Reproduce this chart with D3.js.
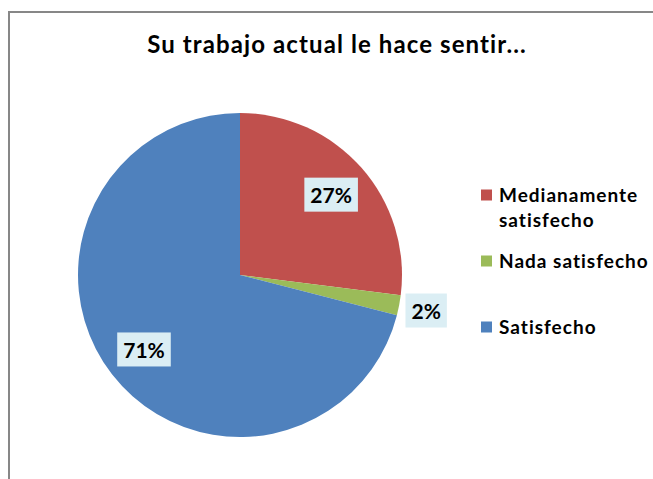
<!DOCTYPE html>
<html><head><meta charset="utf-8">
<script src="https://cdn.jsdelivr.net/npm/d3@7"></script>
<style>body{margin:0;background:#fff}svg{display:block}text{font-family:Lato,"Open Sans",sans-serif}</style>
</head><body>
<svg id="c" width="653" height="479"></svg>
<script>
const categories = ["Medianamente satisfecho", "Nada satisfecho", "Satisfecho"];
const legendLines = [["Medianamente", "satisfecho"], ["Nada satisfecho"], ["Satisfecho"]];
const values = [27, 2, 71];
const colors = ["#C0504D", "#9BBB59", "#4F81BD"];
const title = "Su trabajo actual le hace sentir...";

const svg = d3.select("#c");
const W = 653, H = 479;
svg.append("path").attr("d", `M9,${H} V12 H${W}`).attr("fill","none").attr("stroke","#878787").attr("stroke-width",2);

svg.append("text").attr("x", 337).attr("y", 53).attr("text-anchor","middle")
  .attr("font-size", 24).attr("letter-spacing", 1.1).attr("font-weight","bold").attr("fill","#000").text(title);

const cx = 240, cy = 275, R = 162;
const g = svg.append("g").attr("transform", `translate(${cx},${cy})`);
const pie = d3.pie().sort(null).value(d => d);
const arcs = pie(values);
const arc = d3.arc().innerRadius(0).outerRadius(R);
g.selectAll("path.s").data(arcs).join("path").attr("class","s")
  .attr("d", arc).attr("fill", (d,i) => colors[i]);

const total = d3.sum(values);
arcs.forEach((d,i) => {
  const frac = d.value / total;
  const lr = frac < 0.05 ? R * 1.17 : R * 0.75;
  const la = d3.arc().innerRadius(lr).outerRadius(lr);
  const [x, y] = la.centroid(d);
  const lg = g.append("g");
  const t = lg.append("text").attr("x", x).attr("y", y).attr("text-anchor","middle")
    .attr("dominant-baseline","central").attr("font-size", 21).attr("font-weight","bold")
    .attr("fill","#000").text(Math.round(frac*100) + "%");
  const bb = t.node().getBBox();
  lg.insert("rect", "text").attr("x", bb.x - 6).attr("y", y - 17).attr("width", bb.width + 12)
    .attr("height", 34).attr("fill", "#DBEEF4");
});

const legendY = d3.scalePoint().domain(categories).range([195, 327]);
const lgd = svg.append("g");
categories.forEach((c,i) => {
  const y = legendY(c);
  lgd.append("rect").attr("x", 481).attr("y", y - 5.5).attr("width", 11).attr("height", 11).attr("fill", colors[i]);
  legendLines[i].forEach((ln, j) => {
    lgd.append("text").attr("x", 499).attr("y", y + 7 + j*25).attr("font-size", 19)
      .attr("letter-spacing", 1).attr("font-weight","bold").attr("fill","#000").text(ln);
  });
});
</script>
</body></html>
